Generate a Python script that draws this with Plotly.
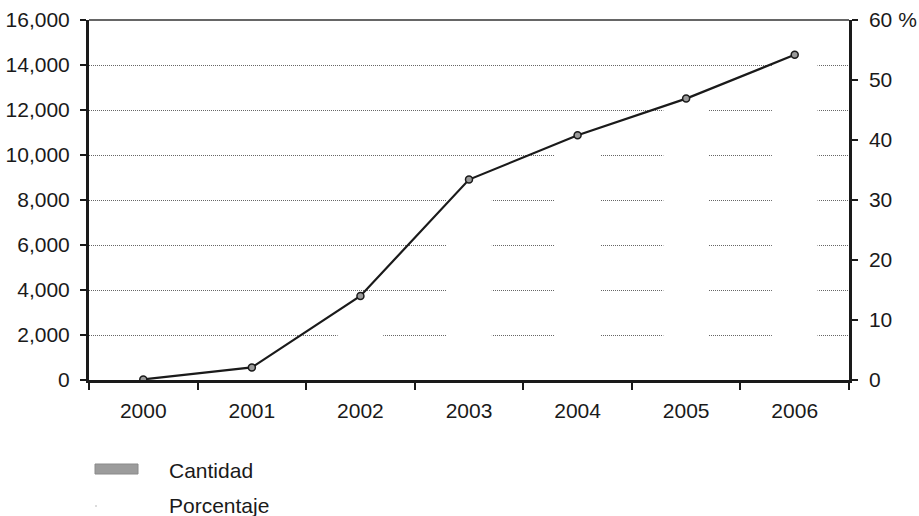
import plotly.graph_objects as go

# Datos
anios = ["2000", "2001", "2002", "2003", "2004", "2005", "2006"]
cantidad = [20, 570, 3730, 8900, 10880, 12510, 14440]
porcentaje = [0.1, 2.1, 14.0, 33.4, 40.8, 46.9, 54.2]

ticks_izq = [0, 2000, 4000, 6000, 8000, 10000, 12000, 14000, 16000]
ticks_der = [0, 10, 20, 30, 40, 50, 60]
etiquetas_der = ["0", "10", "20", "30", "40", "50", "60 %"]

FONT = "Liberation Sans, Arial, sans-serif"
INK = "#1a1a1a"

fig = go.Figure()

# Barras de cantidad (relleno blanco que tapa la cuadrícula)
fig.add_trace(go.Bar(
    x=anios, y=cantidad, name="Cantidad", yaxis="y",
    marker=dict(color="#ffffff", line=dict(width=0)),
    width=0.42, showlegend=False,
))

# Línea de porcentaje en el eje derecho
fig.add_trace(go.Scatter(
    x=anios, y=porcentaje, name="Porcentaje", yaxis="y2",
    mode="lines+markers",
    line=dict(color=INK, width=2.2),
    marker=dict(symbol="circle", size=7, color="#9a9a9a",
                line=dict(color=INK, width=1.5)),
    showlegend=False,
))

fig.update_layout(
    width=919, height=516,
    margin=dict(l=89, r=70, t=20, b=136),
    paper_bgcolor="white", plot_bgcolor="white",
    font=dict(family=FONT, size=21, color=INK),
    xaxis=dict(
        type="category", tickson="boundaries",
        ticks="outside", ticklen=7, tickwidth=2, tickcolor=INK,
        showline=True, linecolor=INK, linewidth=2.5,
        showgrid=False, ticklabelstandoff=10, automargin=False,
        tickfont=dict(size=21),
    ),
    yaxis=dict(
        range=[0, 16000], tickvals=ticks_izq, tickformat=",d",
        ticks="outside", ticklen=6, tickwidth=2, tickcolor=INK,
        showline=True, linecolor=INK, linewidth=3,
        showgrid=True, gridcolor="#666666", gridwidth=1, griddash="1px,1px",
        zeroline=False, ticklabelstandoff=6, automargin=False,
    ),
    yaxis2=dict(
        range=[0, 60], tickvals=ticks_der, ticktext=etiquetas_der,
        overlaying="y", side="right",
        ticks="outside", ticklen=6, tickwidth=2, tickcolor=INK,
        showline=True, linecolor=INK, linewidth=2.5,
        showgrid=False, zeroline=False, ticklabelstandoff=7, automargin=False,
    ),
    shapes=[
        # borde superior del área de trazado
        dict(type="line", xref="paper", yref="paper", x0=0, x1=1, y0=1, y1=1,
             line=dict(color="#333333", width=1.5)),
        # muestra de leyenda: Cantidad
        dict(type="rect", xref="paper", yref="paper",
             x0=(95 - 89) / 760, x1=(138 - 89) / 760,
             y0=-(474 - 380) / 360, y1=-(464 - 380) / 360,
             fillcolor="#9c9c9c", line=dict(color="#8a8a8a", width=1)),
        # muestra de leyenda: Porcentaje
        dict(type="circle", xref="paper", yref="paper",
             x0=(95 - 89) / 760, x1=(97 - 89) / 760,
             y0=-(507 - 380) / 360, y1=-(505 - 380) / 360,
             fillcolor="#d0d0d0", line=dict(width=0)),
    ],
    annotations=[
        dict(text="Cantidad", xref="paper", yref="paper",
             x=(167 - 89) / 760, y=-(470 - 380) / 360,
             xanchor="left", yanchor="middle", showarrow=False,
             font=dict(size=21, family=FONT, color=INK)),
        dict(text="Porcentaje", xref="paper", yref="paper",
             x=(167 - 89) / 760, y=-(505 - 380) / 360,
             xanchor="left", yanchor="middle", showarrow=False,
             font=dict(size=21, family=FONT, color=INK)),
    ],
)

fig.write_html("out.html")
